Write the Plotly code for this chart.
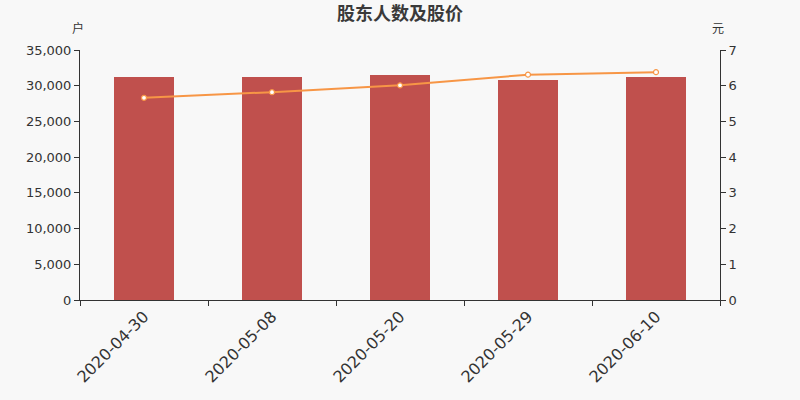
import plotly.graph_objects as go

dates = ["2020-04-30", "2020-05-08", "2020-05-20", "2020-05-29", "2020-06-10"]
holders = [31200, 31200, 31500, 30800, 31200]
prices = [5.66, 5.82, 6.01, 6.31, 6.38]

font_family = "DejaVu Sans, Noto Sans CJK SC, sans-serif"
cjk = "Noto Sans CJK SC, sans-serif"

fig = go.Figure()
fig.add_trace(go.Bar(
    x=dates, y=holders, name="股东人数",
    marker=dict(color="#c0504d", line=dict(width=0)),
    width=60/128, yaxis="y",
))
fig.add_trace(go.Scatter(
    x=dates, y=prices, name="股价", mode="lines+markers",
    line=dict(color="#f79646", width=2),
    marker=dict(size=5, color="#ffffff", line=dict(color="#f79646", width=1.2)),
    yaxis="y2",
))

pw, ph = 640, 250
fig.update_layout(
    width=800, height=400,
    margin=dict(l=80, r=80, t=50, b=100),
    paper_bgcolor="#f8f8f8", plot_bgcolor="#f8f8f8",
    showlegend=False,
    font=dict(family=font_family, color="#333333", size=12),
    title=dict(text="<b>股东人数及股价</b>", x=0.5, xanchor="center",
               y=1 - 14/400, yanchor="middle",
               font=dict(size=18, color="#3a3a3a", family=cjk)),
    bargap=0,
    xaxis=dict(
        type="category", tickangle=-45, tickson="boundaries",
        ticks="outside", ticklen=5, tickcolor="#333333",
        showline=True, linecolor="#333333", linewidth=1,
        showgrid=False, zeroline=False,
        tickfont=dict(size=16, color="#333333"),
    ),
    yaxis=dict(
        range=[0, 35000], dtick=5000, tickformat=",d",
        ticks="outside", ticklen=5, tickcolor="#333333",
        showline=True, linecolor="#333333", linewidth=1,
        showgrid=False, zeroline=False,
        tickfont=dict(size=13, color="#333333"),
    ),
    yaxis2=dict(
        range=[0, 7], dtick=1, overlaying="y", side="right",
        ticks="outside", ticklen=5, tickcolor="#333333",
        showline=True, linecolor="#333333", linewidth=1,
        showgrid=False, zeroline=False,
        tickfont=dict(size=13, color="#333333"),
    ),
    annotations=[
        dict(text="户", x=(78-80)/pw, y=(300-28)/ph, xref="paper", yref="paper",
             showarrow=False, xanchor="center", yanchor="middle",
             font=dict(size=12, color="#333333", family=cjk)),
        dict(text="元", x=(718-80)/pw, y=(300-28)/ph, xref="paper", yref="paper",
             showarrow=False, xanchor="center", yanchor="middle",
             font=dict(size=12, color="#333333", family=cjk)),
    ],
)

fig.write_html(
    "out.html",
    config={"displayModeBar": False},
    post_script="document.body.style.margin='0';document.body.style.background='#f8f8f8';",
)
